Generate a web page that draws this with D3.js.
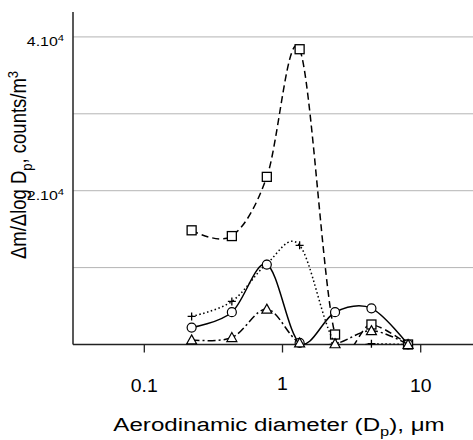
<!DOCTYPE html>
<head>
  <meta charset="utf-8">
  <script src="https://d3js.org/d3.v7.min.js"></script>
  <style>
    body { margin: 0; background: #fff; }
    text { font-family: "Liberation Sans", Arial, sans-serif; fill: #000; }
  </style>
</head>
<body>
<script>
// particle diameters (um) and the four series
var diam = [0.22, 0.43, 0.77, 1.33, 2.4, 4.4, 8.1]
var squares = [14850, 14100, 21800, 38400, 1300, 2600, 0]
var pluses = [3650, 5600, 10500, 12900, 200, 100, 0]
var circles = [2200, 4200, 10400, 200, 4200, 4700, 0]
var triangles = [600, 900, 4600, 200, 100, 1800, 0]
var xTicks = [0.1, 1, 10]
var xTickLabels = ["0.1", "1", "10"]
var gridVals = [10000, 20000, 30000, 40000]
var yLabelVals = [20000, 40000]
var yLabelText = ["2.10", "4.10"]

var svg = d3.select("body").append("svg")
  .attr("width", 473).attr("height", 440)

var x = d3.scaleLog().domain([0.03048, 23.9]).range([73, 473])
var y = d3.scaleLinear().domain([0, 43240]).range([344.5, 12])

// plot area clip (lines only)
svg.append("clipPath").attr("id", "plotclip").append("rect")
  .attr("x", 73).attr("y", 0).attr("width", 400).attr("height", y(0))

// gridlines
svg.append("g").selectAll("line").data(gridVals).enter().append("line")
  .attr("x1", 73).attr("x2", 473)
  .attr("y1", function(d){return y(d)}).attr("y2", function(d){return y(d)})
  .attr("stroke", "#b4b4b4").attr("stroke-width", 1)

// axes
svg.append("line").attr("x1", 73).attr("x2", 73).attr("y1", y.range()[1]).attr("y2", y(0))
  .attr("stroke", "#222").attr("stroke-width", 1.5)
svg.append("line").attr("x1", 73).attr("x2", 473).attr("y1", y(0)).attr("y2", y(0))
  .attr("stroke", "#222").attr("stroke-width", 1.5)
svg.append("g").selectAll("line").data(xTicks).enter().append("line")
  .attr("x1", function(d){return x(d)}).attr("x2", function(d){return x(d)})
  .attr("y1", y(0)).attr("y2", y(0) + 8)
  .attr("stroke", "#222").attr("stroke-width", 1.3)
svg.append("g").selectAll("text").data(xTicks).enter().append("text")
  .attr("transform", function(d, i){return "translate(" + x(d) + "," + (i == 1 ? 390 : 392) + ") scale(1.08,1)"})
  .attr("text-anchor", "middle").attr("font-size", "18px")
  .text(function(d, i){return xTickLabels[i]})

// y labels like 2.10^4
var yl = svg.append("g").selectAll("text").data(yLabelVals).enter().append("text")
  .attr("transform", function(d){return "translate(64," + (y(d) + 9) + ") scale(1.18,1)"})
  .attr("text-anchor", "end").attr("font-size", "13.5px")
yl.append("tspan").text(function(d, i){return yLabelText[i]})
yl.append("tspan").attr("font-size", "9.5px").attr("dy", -5).text("4")

// series
var line = d3.line()
  .x(function(d){return x(d[0])})
  .y(function(d){return y(d[1])})
  .curve(d3.curveCardinal.tension(0))

var series = [
  {vals: squares, dash: "7,4", marker: "square"},
  {vals: pluses, dash: "1.5,2.5", marker: "plus"},
  {vals: circles, dash: null, marker: "circle"},
  {vals: triangles, dash: "8,3,2,3", marker: "triangle"}
]

series.forEach(function(s){
  var pts = diam.map(function(d, i){return [d, s.vals[i]]})
  svg.append("path").datum(pts)
    .attr("d", line)
    .attr("clip-path", "url(#plotclip)")
    .attr("fill", "none").attr("stroke", "#000").attr("stroke-width", 1.5)
    .attr("stroke-dasharray", s.dash)
  var g = svg.append("g").selectAll("g").data(pts).enter().append("g")
    .attr("transform", function(d){return "translate(" + x(d[0]) + "," + y(d[1]) + ")"})
  if (s.marker == "square") {
    g.append("rect").attr("x", -4.5).attr("y", -4.5).attr("width", 9).attr("height", 9)
      .attr("fill", "#fff").attr("stroke", "#000").attr("stroke-width", 1.3)
  } else if (s.marker == "circle") {
    g.append("circle").attr("r", 4.5)
      .attr("fill", "#fff").attr("stroke", "#000").attr("stroke-width", 1.2)
  } else if (s.marker == "triangle") {
    g.append("path").attr("d", "M0,-5L5,4L-5,4Z")
      .attr("fill", "#fff").attr("stroke", "#000").attr("stroke-width", 1.2)
  } else {
    g.append("path").attr("d", "M-4,0H4M0,-4V4")
      .attr("stroke", "#000").attr("stroke-width", 1.3)
  }
})

// axis titles
var xt = svg.append("text").attr("transform", "translate(279,431) scale(1.27,1)")
  .attr("text-anchor", "middle").attr("font-size", "19px")
xt.append("tspan").text("Aerodinamic diameter (D")
xt.append("tspan").attr("font-size", "13px").attr("dy", 5).text("p")
xt.append("tspan").attr("dy", -5).text("), μm")

var yt = svg.append("text")
  .attr("transform", "translate(26,165) scale(1.15,1) rotate(-90)")
  .attr("text-anchor", "middle").attr("font-size", "18.5px")
yt.append("tspan").text("Δm/Δlog D")
yt.append("tspan").attr("font-size", "13px").attr("dy", 5).text("p")
yt.append("tspan").attr("dy", -5).text(", counts/m")
yt.append("tspan").attr("font-size", "13px").attr("dy", -7).text("3")
</script>
</body>
